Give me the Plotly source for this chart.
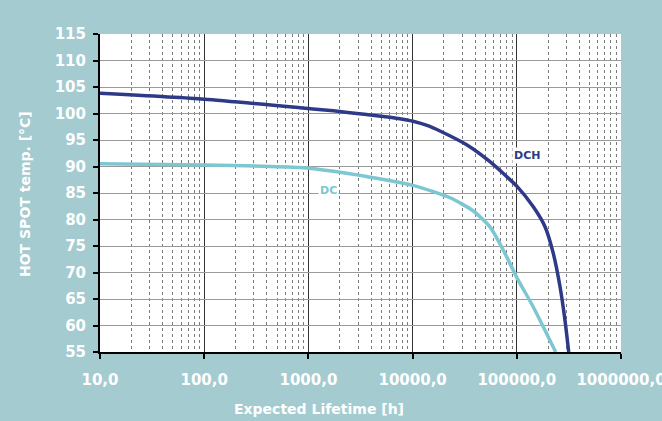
import plotly.graph_objects as go

# Data
dch_hours = [10, 100, 830, 1735, 3620, 6500, 10300, 14000, 18300, 33000, 55300, 79800, 101000, 144000, 187000, 224000, 260000, 290000, 315000]
dch_temp = [103.8, 102.7, 101.1, 100.5, 99.8, 99.2, 98.5, 97.7, 96.7, 94.1, 90.9, 88.1, 86.2, 82.4, 78.6, 73.6, 67.3, 61.0, 55.0]

dc_hours = [10, 100, 830, 1735, 3620, 10300, 22900, 38300, 55300, 74300, 101000, 144000, 193000, 236000]
dc_temp = [90.5, 90.3, 89.8, 89.1, 88.1, 86.4, 84.1, 81.6, 78.6, 74.2, 68.9, 63.5, 58.5, 55.0]

x_tickvals = [10, 100, 1000, 10000, 100000, 1000000]
x_ticktext = ["10,0", "100,0", "1000,0", "10000,0", "100000,0", "1000000,0"]
y_tickvals = [55, 60, 65, 70, 75, 80, 85, 90, 95, 100, 105, 110, 115]

navy = "#2E3A87"
cyan = "#7CC7D1"
bg = "#A4CBD0"
font_family = "DejaVu Sans, Verdana, sans-serif"

W, H = 662, 421
L, R, T, B = 100, 41, 34, 69
pw, ph = W - L - R, H - T - B

fig = go.Figure()
fig.add_trace(go.Scatter(x=dch_hours, y=dch_temp, mode="lines",
                         line=dict(color=navy, width=3.5, shape="spline", smoothing=0.6),
                         name="DCH", showlegend=False, hoverinfo="skip"))
fig.add_trace(go.Scatter(x=dc_hours, y=dc_temp, mode="lines",
                         line=dict(color=cyan, width=3.5, shape="spline", smoothing=0.6),
                         name="DC", showlegend=False, hoverinfo="skip"))

fig.add_annotation(x=5.10, y=92.0, xref="x", yref="y", text="<b>DCH</b>", showarrow=False,
                   font=dict(family=font_family, size=11, color=navy), bgcolor="white", borderpad=1)
fig.add_annotation(x=3.19, y=85.4, xref="x", yref="y", text="<b>DC</b>", showarrow=False,
                   font=dict(family=font_family, size=11, color=cyan), bgcolor="white", borderpad=1)

# axis titles
fig.add_annotation(x=(319 - L) / pw, y=-(409 - (H - B)) / ph, xref="paper", yref="paper",
                   text="<b>Expected Lifetime [h]</b>", showarrow=False,
                   font=dict(family=font_family, size=14, color="white"),
                   xanchor="center", yanchor="middle")
fig.add_annotation(x=-(L - 25) / pw, y=((H - B) - 194) / ph, xref="paper", yref="paper",
                   text="<b>HOT SPOT temp. [°C]</b>", showarrow=False, textangle=-90,
                   font=dict(family=font_family, size=14, color="white"),
                   xanchor="center", yanchor="middle")

fig.update_layout(
    width=W, height=H,
    margin=dict(l=L, r=R, t=T, b=B, autoexpand=False),
    paper_bgcolor=bg, plot_bgcolor="white",
    font=dict(family=font_family, color="white"),
    xaxis=dict(
        type="log", range=[1, 6], automargin=False,
        tickvals=x_tickvals, ticktext=x_ticktext,
        tickfont=dict(family=font_family, size=15, color="white", weight="bold"),
        ticklabelstandoff=8, ticklabeloverflow="allow",
        showgrid=True, gridcolor="#333333", gridwidth=1.3,
        showline=True, linecolor="black", linewidth=2,
        ticks="outside", tickcolor="black", ticklen=5, tickwidth=2,
        minor=dict(dtick="D1", showgrid=True, gridcolor="#7a7a7a", griddash="dot", gridwidth=1.2, ticks=""),
        zeroline=False,
    ),
    yaxis=dict(
        range=[55, 115], tickvals=y_tickvals, automargin=False,
        tickfont=dict(family=font_family, size=15, color="white", weight="bold"),
        ticklabelstandoff=4,
        showgrid=True, gridcolor="#9a9a9a", gridwidth=1.2,
        showline=True, linecolor="black", linewidth=2,
        ticks="outside", tickcolor="black", ticklen=5, tickwidth=2,
        zeroline=False,
    ),
)

fig.write_html("out.html", config={"displayModeBar": False},
               post_script="document.body.style.margin='0';document.body.style.background='" + bg + "';")
